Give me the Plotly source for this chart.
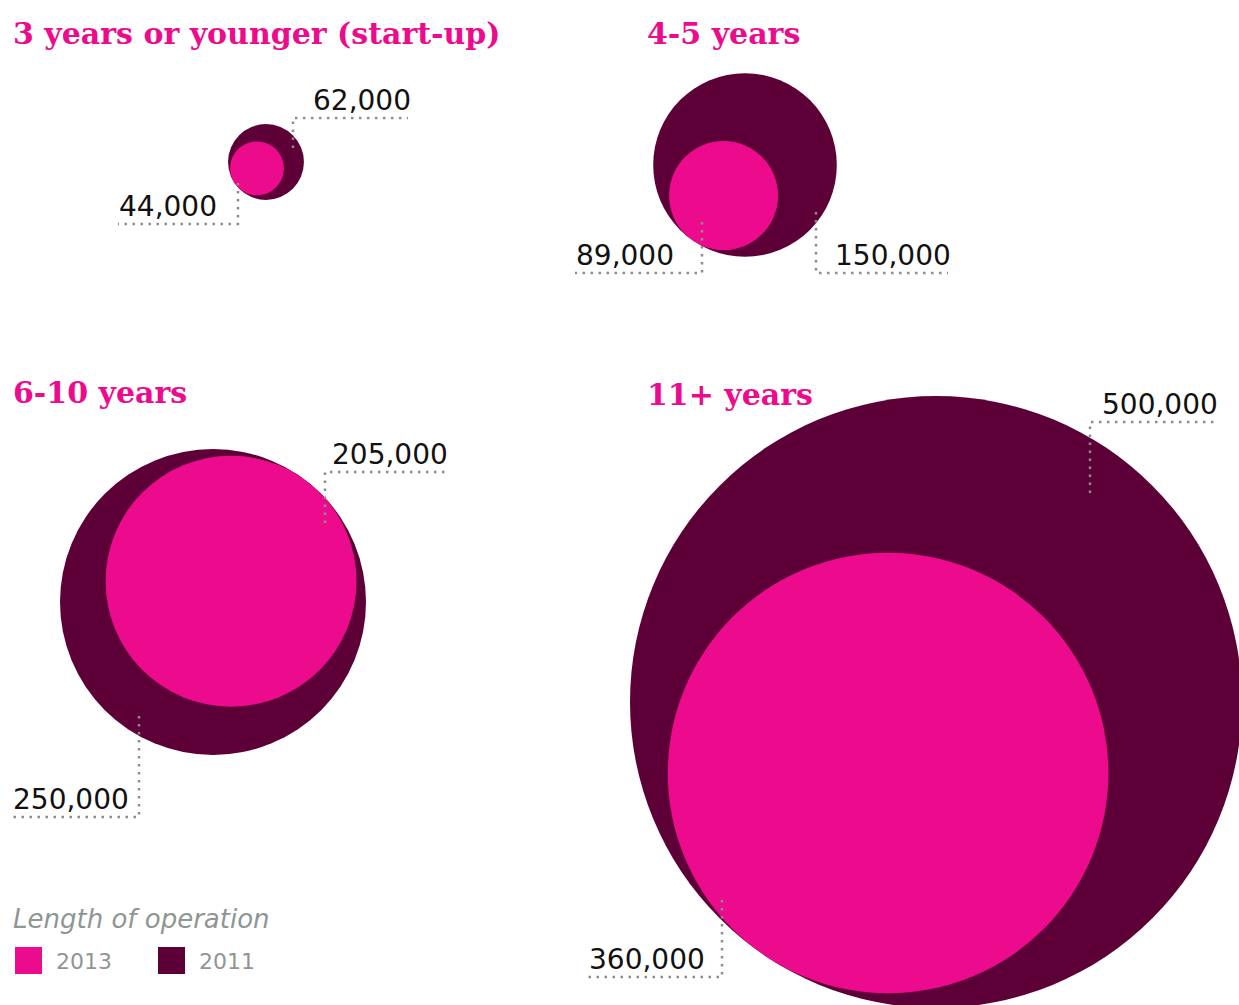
import math
import plotly.graph_objects as go

# ---- data -------------------------------------------------------------
groups = ["3 years or younger (start-up)", "4-5 years", "6-10 years", "11+ years"]
values_2013 = [44000, 89000, 205000, 360000]
values_2011 = [62000, 150000, 250000, 500000]
labels_2013 = ["44,000", "89,000", "205,000", "360,000"]
labels_2011 = ["62,000", "150,000", "250,000", "500,000"]
series_names = ["2013", "2011"]
legend_title = "Length of operation"

# ---- styling / layout --------------------------------------------------
PINK = "#ec0b8c"
PLUM = "#5d0037"
GREY = "#8c8c8c"
LEGEND_GREY = "#8f9692"
W, H = 1239, 1005
PX_PER_UNIT = 0.000612          # circle radius per unit of value

# outer (2011) circle centres and direction of the inner (2013) circle
centres = [(266, 162), (745, 165), (213, 602), (936, 702)]
inner_angle = [145, 125, -49, 124]
title_pos = [(11, 33), (645, 33), (11, 392), (645, 394)]

# leader lines: (start x, start y inside circle, elbow y, far x)
leaders_2013 = [(238, 183, 224, 118), (702, 222, 273, 575),
                (325, 523, 472, 445), (722, 900, 977, 588)]
leaders_2011 = [(293, 148, 118, 408), (816, 212, 273, 948),
                (139, 716, 817, 12), (1090, 493, 422, 1215)]

outer_x, outer_y, outer_d = [], [], []
inner_x, inner_y, inner_d = [], [], []
for (cx, cy), ang, v_in, v_out in zip(centres, inner_angle, values_2013, values_2011):
    r_out = v_out * PX_PER_UNIT
    r_in = v_in * PX_PER_UNIT
    off = r_out - r_in
    a = math.radians(ang)
    outer_x.append(cx)
    outer_y.append(cy)
    outer_d.append(2 * r_out)
    inner_x.append(cx + off * math.cos(a))
    inner_y.append(cy + off * math.sin(a))
    inner_d.append(2 * r_in)

fig = go.Figure()
fig.add_trace(go.Scatter(
    x=outer_x, y=outer_y, mode="markers", name=series_names[1],
    marker=dict(size=outer_d, sizemode="diameter", color=PLUM, line=dict(width=0), opacity=1),
    text=[f"{g}: {l}" for g, l in zip(groups, labels_2011)], hoverinfo="text",
))
fig.add_trace(go.Scatter(
    x=inner_x, y=inner_y, mode="markers", name=series_names[0],
    marker=dict(size=inner_d, sizemode="diameter", color=PINK, line=dict(width=0), opacity=1),
    text=[f"{g}: {l}" for g, l in zip(groups, labels_2013)], hoverinfo="text",
))

annotations = []
shapes = []

# dotted leader lines with value labels
for leaders, labels in ((leaders_2013, labels_2013), (leaders_2011, labels_2011)):
    for (sx, sy, ey, fx), lab in zip(leaders, labels):
        fig.add_trace(go.Scatter(
            x=[sx, sx, fx], y=[sy, ey, ey], mode="lines", hoverinfo="skip",
            line=dict(color=GREY, width=2.5, dash="2.5px,5.5px"),
        ))
        right = fx > sx
        annotations.append(dict(
            x=fx + (5 if right else -1), y=ey + 1, xref="x", yref="y",
            text=lab, showarrow=False,
            xanchor="right" if right else "left", yanchor="bottom",
            font=dict(family="DejaVu Sans", size=28, color="#111111"),
        ))

# group titles
for (tx, ty), g in zip(title_pos, groups):
    annotations.append(dict(
        x=tx, y=ty, xref="x", yref="y", text=f"<b>{g}</b>", showarrow=False,
        xanchor="left", yanchor="middle",
        font=dict(family="DejaVu Serif", size=30, color=PINK),
    ))

# legend
annotations.append(dict(
    x=11, y=919, xref="x", yref="y", text=f"<i>{legend_title}</i>", showarrow=False,
    xanchor="left", yanchor="middle",
    font=dict(family="DejaVu Sans", size=26, color=LEGEND_GREY),
))
for (x0, col, name) in ((15, PINK, series_names[0]), (158, PLUM, series_names[1])):
    shapes.append(dict(type="rect", xref="x", yref="y", x0=x0, x1=x0 + 27, y0=947, y1=974,
                       fillcolor=col, line=dict(width=0)))
    annotations.append(dict(
        x=x0 + 39, y=961, xref="x", yref="y", text=name, showarrow=False,
        xanchor="left", yanchor="middle",
        font=dict(family="DejaVu Sans", size=22, color=LEGEND_GREY),
    ))

fig.update_layout(
    width=W, height=H, margin=dict(l=0, r=0, t=0, b=0),
    paper_bgcolor="white", plot_bgcolor="white", showlegend=False,
    xaxis=dict(range=[0, W], visible=False, fixedrange=True),
    yaxis=dict(range=[H, 0], visible=False, fixedrange=True),
    annotations=annotations, shapes=shapes,
)

fig.write_html("out.html")
